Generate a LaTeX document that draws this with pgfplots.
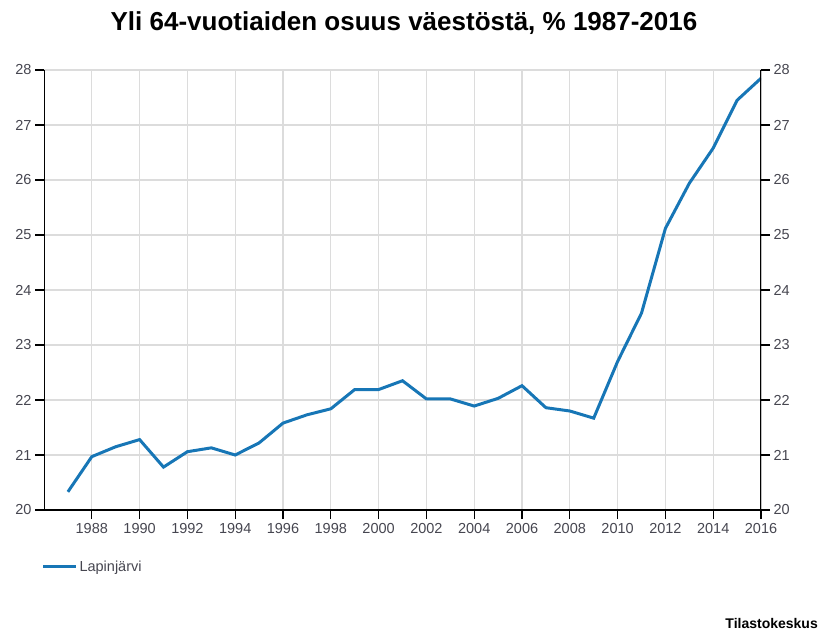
\documentclass[border=0pt]{standalone}
\usepackage{fontspec}
\setmainfont{Liberation Sans}
\usepackage{pgfplots}
\pgfplotsset{compat=1.18}
\definecolor{lineblue}{RGB}{23,118,182}
\definecolor{gridgray}{RGB}{220,220,220}
\definecolor{ticktext}{RGB}{70,70,80}
\begin{document}
\begin{tikzpicture}
\useasboundingbox (0pt,0pt) rectangle (821pt,634pt);
\pgfplotsset{
  base/.style={
    at={(44pt,124pt)}, anchor=south west, scale only axis, width=717pt, height=440pt,
    xmin=1986, xmax=2016, ymin=20, ymax=28,
    xtick={1988,1990,...,2016}, ytick={20,21,...,28},
    axis line style={draw=none},
    tick align=outside, major tick length=9pt, tick style={black, line width=1.3pt},
    /pgf/number format/assume math mode=true,
    /pgf/number format/1000 sep={},
    ticklabel style={font=\fontsize{14.5}{16}\selectfont, text=ticktext},
  }
}
\begin{axis}[base,
  grid=major, major grid style={gridgray, line width=1.2pt},
  xtick pos=bottom, ytick pos=both, yticklabel pos=left,
  xticklabel style={yshift=-1pt},
  legend style={at={(axis description cs:-0.004,-0.129)}, anchor=west, draw=none, fill=none,
    font=\fontsize{14.5}{16}\selectfont, text=ticktext, inner sep=0pt},
  legend image code/.code={\draw[lineblue, line width=3.4pt] (0pt,0pt) -- (29pt,0pt); \path (0pt,0pt) -- (33pt,0pt);},
  legend cell align=left,
]
\addplot[lineblue, line width=3pt] coordinates {
(1987,20.33) (1988,20.97) (1989,21.15) (1990,21.28) (1991,20.78) (1992,21.06)
(1993,21.13) (1994,21.00) (1995,21.22) (1996,21.58) (1997,21.73) (1998,21.84)
(1999,22.19) (2000,22.19) (2001,22.35) (2002,22.02) (2003,22.02) (2004,21.89)
(2005,22.03) (2006,22.26) (2007,21.86) (2008,21.80) (2009,21.67) (2010,22.70)
(2011,23.58) (2012,25.12) (2013,25.94) (2014,26.58) (2015,27.45) (2016,27.85)
};
\addlegendentry{Lapinjärvi}
\draw[black, line width=2.4pt] ([yshift=-13pt]axis description cs:0,0) -- ([yshift=11pt]axis description cs:0,1);
\draw[black, line width=2.4pt] ([yshift=-13pt]axis description cs:1,0) -- ([yshift=11pt]axis description cs:1,1);
\draw[black, line width=2.4pt] ([xshift=-9pt]axis description cs:0,0) -- (axis description cs:1,0);
\end{axis}
\begin{axis}[base, xtick=\empty, ytick pos=right, yticklabel pos=right, tick style={draw=none}]
\end{axis}
\node[anchor=base, font=\bfseries\fontsize{26}{30}\selectfont, inner sep=0] at (404pt,603pt) {Yli 64-vuotiaiden osuus väestöstä, \% 1987-2016};
\node[anchor=base east, font=\bfseries\fontsize{14}{16}\selectfont, inner sep=0] at (818pt,6pt) {Tilastokeskus};
\end{tikzpicture}
\end{document}
